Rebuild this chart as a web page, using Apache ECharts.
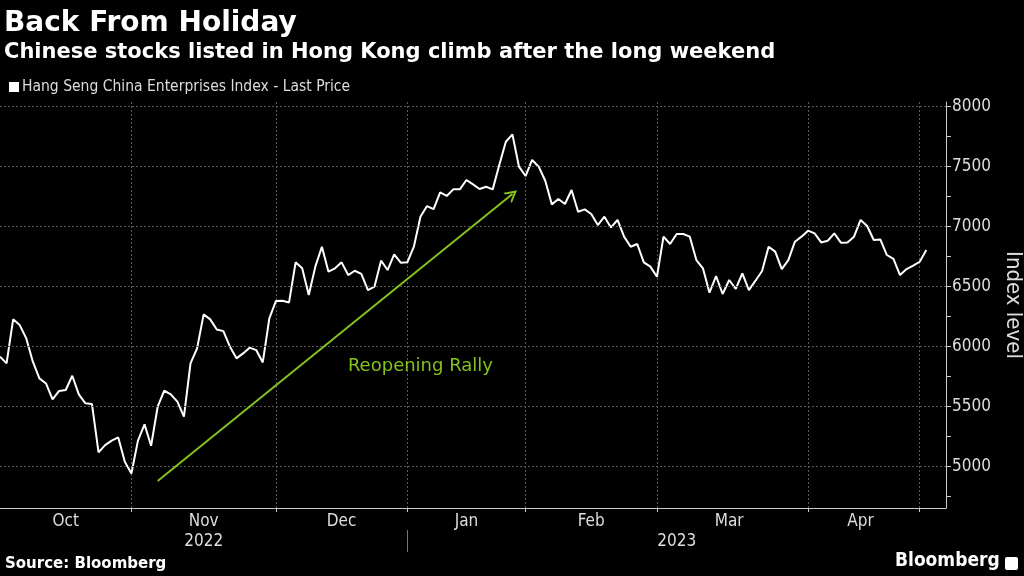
<!DOCTYPE html>
<html>
<head>
<meta charset="utf-8">
<script src="https://cdn.jsdelivr.net/npm/echarts@6/dist/echarts.min.js"></script>
<style>
html,body{margin:0;padding:0;background:#000;}
#c{width:1024px;height:576px;}
</style>
</head>
<body>
<div id="c"></div>
<script>
// Month names and trading-day closing values (Hang Seng China Enterprises Index)
const monthNames = ['Oct', 'Nov', 'Dec', 'Jan', 'Feb', 'Mar', 'Apr', 'May'];
const octVals = [5917,5861,6228,6180,6069,5875,5736,5694,5561,5631,5639,5758,5603,5528,5522,5119,5180,5217,5244,5042];
const novVals = [4944,5217,5353,5175,5500,5633,5603,5542,5417,5861,5986,6269,6228,6144,6130,6000,5903,5944,5992,5972,5869,6236];
const decVals = [6381,6383,6369,6703,6653,6431,6667,6833,6625,6653,6703,6597,6633,6606,6472,6500,6717,6639,6769,6700];
const janVals = [6703,6833,7083,7172,7147,7286,7256,7311,7311,7389,7353,7314,7333,7311,7514,7708,7769,7500];
const febVals = [7422,7556,7500,7383,7186,7231,7189,7306,7125,7144,7106,7014,7083,6994,7056,6917,6833,6856,6703,6667];
const marVals = [6583,6917,6856,6939,6939,6917,6722,6653,6450,6589,6439,6556,6481,6611,6472,6550,6631,6833,6792,6647,6722,6875,6917];
const aprVals = [6967,6944,6869,6883,6944,6867,6869,6917,7056,7006,6889,6894,6764,6731,6597,6647,6675];
const mayVals = [6708,6806];
const yearLabels = ['2022', '2023'];
const yTickLabels = [5000, 5500, 6000, 6500, 7000, 7500, 8000];
const yMinorTicks = [4750, 5250, 5750, 6250, 6750, 7250, 7750];
const seriesName = 'Hang Seng China Enterprises Index - Last Price';
const annotationText = 'Reopening Rally';
const arrowStart = [24, 4881];
const arrowEnd = [78, 7272];
const annotationAt = [64, 5840];

const monthVals = [octVals, novVals, decVals, janVals, febVals, marVals, aprVals, mayVals];
const categories = [];
const values = [];
const monthStarts = [];
monthVals.forEach((arr, m) => {
  monthStarts.push(categories.length);
  arr.forEach((v, k) => { categories.push(monthNames[m] + ' ' + (k + 1)); values.push(v); });
});
// empty trading-day slots at right edge of axis
for (let k = 0; k < 3; k++) { categories.push('pad' + k); values.push(null); }
const monthLabelIdx = {};
for (let m = 0; m < 7; m++) {
  monthLabelIdx[Math.floor((monthStarts[m] + monthStarts[m + 1]) / 2)] = monthNames[m];
}
const yearBoundary = monthStarts[3];
const yearLabelIdx = {};
yearLabelIdx[Math.floor(yearBoundary / 2)] = yearLabels[0];
yearLabelIdx[Math.floor((yearBoundary + categories.length - 1) / 2)] = yearLabels[1];
const startSet = new Set(monthStarts.slice(1));

const COND = "'DejaVu Sans Condensed','DejaVu Sans',sans-serif";
const NORM = "'DejaVu Sans',sans-serif";
const GREEN = '#84c21c';
const GRID = '#5a5a5a';
const chart = echarts.init(document.getElementById('c'));
chart.setOption({
  backgroundColor: '#000',
  animation: false,
  title: {
    text: 'Back From Holiday',
    subtext: 'Chinese stocks listed in Hong Kong climb after the long weekend',
    left: -1, top: 4, itemGap: 2,
    textStyle: { color: '#fff', fontSize: 28, fontWeight: 'bold', fontFamily: NORM, lineHeight: 30 },
    subtextStyle: { color: '#fff', fontSize: 21, fontWeight: 'bold', fontFamily: NORM, lineHeight: 24 }
  },
  legend: {
    left: 4, top: 74, icon: 'rect', itemWidth: 10, itemHeight: 10, itemGap: 4,
    textStyle: { color: '#ddd', fontSize: 15.5, fontFamily: COND, padding: [0, 0, 0, -2] },
    data: [seriesName]
  },
  grid: { left: 0, right: 78, top: 102, bottom: 68, containLabel: false, outerBoundsMode: 'none' },
  xAxis: [{
    type: 'category', data: categories, boundaryGap: false,
    axisLine: { show: true, lineStyle: { color: '#ccc', width: 1 } },
    axisTick: { show: true, length: 4, interval: (i) => startSet.has(i), lineStyle: { color: '#ccc' } },
    axisLabel: {
      interval: (i) => monthLabelIdx[i] !== undefined,
      formatter: (v, i) => monthLabelIdx[i] || '',
      color: '#ddd', fontSize: 17, fontFamily: COND, margin: 5
    },
    splitLine: { show: true, interval: (i) => startSet.has(i), lineStyle: { color: GRID, type: [2, 2], width: 1 } }
  }, {
    type: 'category', data: categories, boundaryGap: false, position: 'bottom', offset: 22,
    axisLine: { show: false },
    axisTick: { show: true, length: 22, interval: (i) => i === yearBoundary, lineStyle: { color: '#777' } },
    axisLabel: {
      interval: (i) => yearLabelIdx[i] !== undefined,
      formatter: (v, i) => yearLabelIdx[i] || '',
      color: '#ddd', fontSize: 17, fontFamily: COND, margin: 3
    },
    splitLine: { show: false }
  }],
  yAxis: {
    type: 'value', position: 'right', min: 4656, max: 8039,
    name: 'Index level', nameLocation: 'middle', nameRotate: -90, nameGap: 56, nameMoveOverlap: false,
    nameTextStyle: { color: '#ddd', fontSize: 22, fontFamily: COND },
    axisLine: { show: true, lineStyle: { color: '#ccc', width: 1 } },
    axisTick: { show: true, length: 5, customValues: yTickLabels.concat(yMinorTicks), lineStyle: { color: '#ccc' } },
    axisLabel: { customValues: yTickLabels, formatter: (v) => String(v), color: '#ddd', fontSize: 17, fontFamily: COND, margin: 6 },
    splitLine: { show: false }
  },
  series: [{
    name: 'gridlines', type: 'line', data: [], z: 1, silent: true,
    markLine: {
      silent: true, animation: false, symbol: 'none', label: { show: false },
      lineStyle: { color: GRID, type: [2, 2], width: 1 },
      data: yTickLabels.map((v) => ({ yAxis: v }))
    }
  }, {
    name: seriesName, type: 'line', data: values, showSymbol: false, symbol: 'none', z: 3,
    lineStyle: { color: '#fff', width: 2 }, itemStyle: { color: '#fff' },
    markLine: {
      silent: true, animation: false,
      symbol: ['none', 'path://M5,0 L10,9 L8.4,9 L5,3.2 L1.6,9 L0,9 Z'], symbolSize: [13, 12],
      lineStyle: { color: GREEN, width: 2, type: 'solid' },
      label: { show: false },
      data: [[{ coord: arrowStart }, { coord: arrowEnd }]]
    },
    markPoint: {
      silent: true, symbol: 'circle', symbolSize: 0,
      label: { show: true, position: 'inside', formatter: annotationText, color: GREEN, fontSize: 18, fontFamily: NORM },
      data: [{ coord: annotationAt }]
    }
  }],
  graphic: [
    { type: 'text', left: 5, top: 557, style: { text: 'Source: Bloomberg', fill: '#fff', font: "bold 15px 'DejaVu Sans',sans-serif" } },
    { type: 'text', left: 895, top: 552, style: { text: 'Bloomberg', fill: '#fff', font: "bold 19px 'DejaVu Sans Condensed','DejaVu Sans',sans-serif" } },
    { type: 'rect', left: 1005, top: 557, shape: { width: 13, height: 13, r: 2 }, style: { fill: '#fff' } }
  ]
});
</script>
</body>
</html>
